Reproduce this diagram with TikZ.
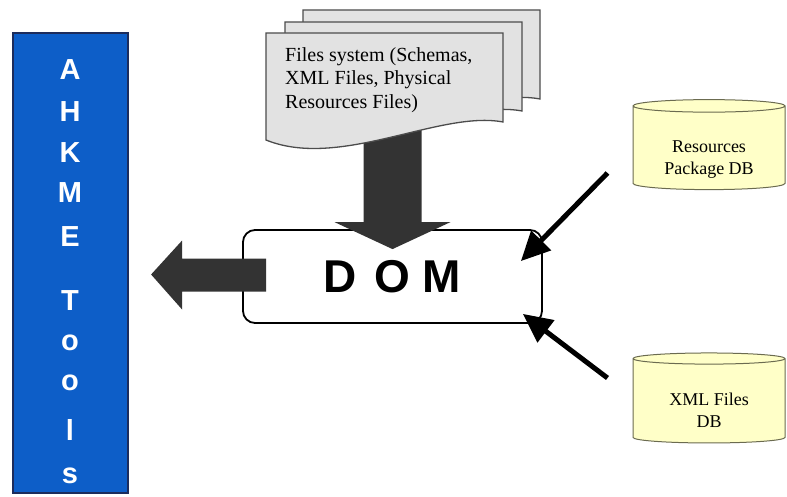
\documentclass[tikz,border=0pt]{standalone}
\usepackage{fontspec}
\setmainfont{Liberation Serif}
\setsansfont{Liberation Sans}
\usetikzlibrary{arrows.meta, calc, shapes.geometric}
\definecolor{toolblue}{HTML}{0D5EC8}
\definecolor{toolborder}{HTML}{1C2C5C}
\definecolor{docgrey}{HTML}{E2E2E2}
\definecolor{dbyellow}{HTML}{FFFFC8}
\definecolor{dbborder}{HTML}{6B6B50}
\definecolor{arrowgrey}{HTML}{333333}
\newcommand{\dbtext}[1]{\raisebox{-11pt}[\height][\depth]{\begin{tabular}{@{}c@{}}#1\end{tabular}}}

\begin{document}
\begin{tikzpicture}[x=1pt, y=-1pt,
  bar/.style={draw=toolborder, line width=1.5pt, fill=toolblue, minimum width=115pt, minimum height=460pt, inner sep=0pt},
  letter/.style={text=white, font=\sffamily\bfseries\fontsize{29}{29}\selectfont, anchor=base, inner sep=0pt},
  sheet/.style={draw=black!70, line width=1.3pt, fill=docgrey},
  dombox/.style={draw, line width=1.8pt, rounded corners=12pt, minimum width=299pt, minimum height=93pt, font=\sffamily\bfseries\fontsize{46}{46}\selectfont},
  db/.style={cylinder, shape border rotate=90, aspect=0.14, draw=dbborder, line width=1pt, fill=dbyellow, minimum width=152pt, minimum height=90pt, inner sep=0pt, font=\fontsize{18}{22}\selectfont},
  blockarrow/.style={fill=arrowgrey},
  feed/.style={line width=5pt, -{Triangle[length=29pt, width=27pt]}}]
\useasboundingbox (0,0) rectangle (787,497);

\node[bar] (tools) at (70.5,263) {};
\foreach \ch/\yy [count=\i] in {A/80, H/122, K/163, M/203, E/247, T/310, o/350, o/390, l/440, s/483}
  \node[letter] (tools-\i) at (70,\yy) {\ch};

\node[dombox] (dom) at (392.5,276.5) {D\hspace{17pt}O\hspace{13pt}M};

\fill[blockarrow] ($(dom.north)+(0,20)$) -- ++(-58,-27) -- ++(29,0) -- ++(0,-93) -- ++(58,0) -- ++(0,93) -- ++(29,0) -- cycle;
\fill[blockarrow] ($(dom.west)+(-91,-2)$) -- ++(31,-34) -- ++(0,18) -- ++(84,0) -- ++(0,33) -- ++(-84,0) -- ++(0,18) -- cycle;

\foreach \dx/\dy in {37/-23, 19/-11, 0/0}
  \draw[sheet, shift={(\dx,\dy)}] (266,33) -- (503,33) -- (503,122) .. controls (440,110) and (340,170) .. (266,140) -- cycle;
\node[anchor=north west, align=left, inner sep=0pt, font=\fontsize{20}{23.5}\selectfont] (files) at (285,47) {Files system (Schemas,\\XML Files, Physical\\Resources Files)};

\node[db] (resdb) at (709,148) {\dbtext{Resources\\Package DB}};
\node[db] (xmldb) at (709,401) {\dbtext{XML Files\\DB}};

\coordinate (restail) at ($(resdb.west)+(-25,25)$);
\coordinate (xmltail) at ($(xmldb.west)+(-25,-23)$);
\draw[feed] (restail) -- ($(dom.north east)+(-22,32)$);
\draw[feed] (xmltail) -- ($(dom.south east)+(-20,-10)$);
\end{tikzpicture}
\end{document}
